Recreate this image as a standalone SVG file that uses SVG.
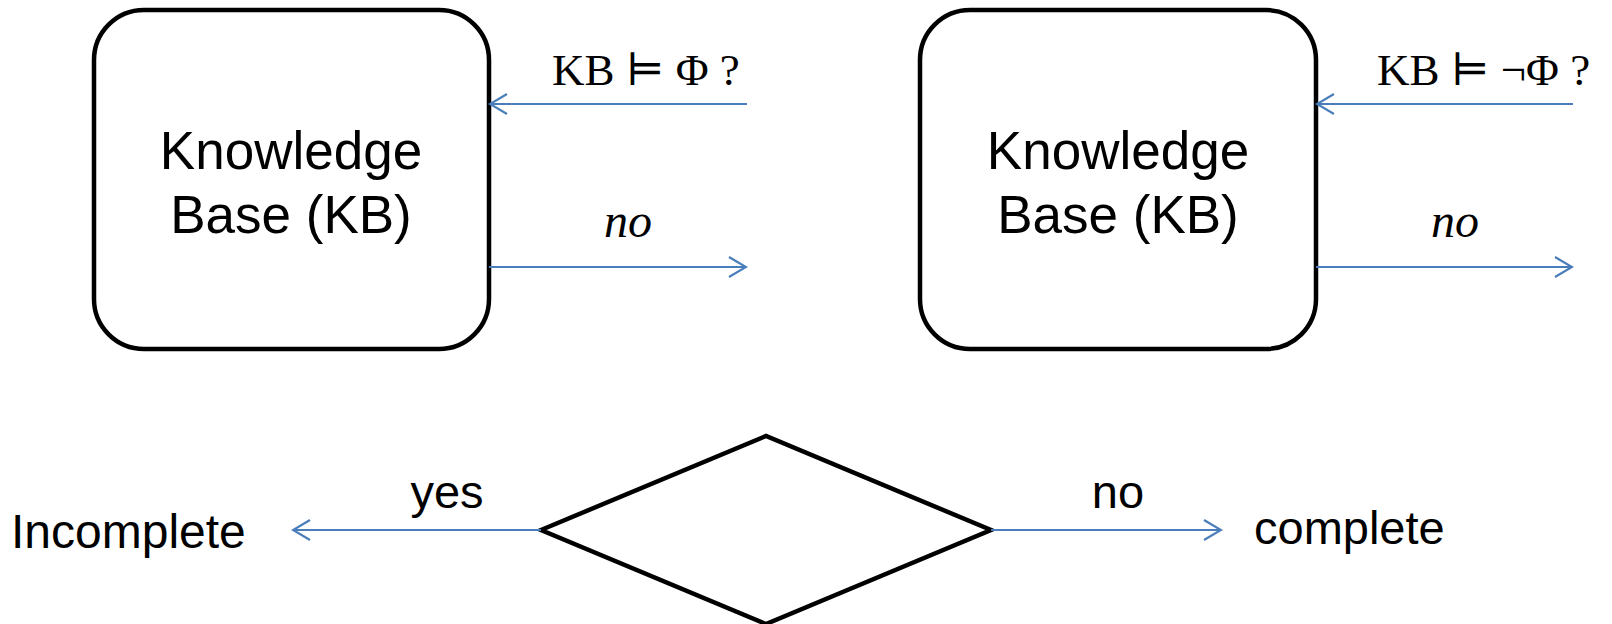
<svg xmlns="http://www.w3.org/2000/svg" width="1612" height="624" viewBox="0 0 1612 624">
  <style>
    .box { fill: #ffffff; stroke: #000000; stroke-width: 4.5; }
    .sans { font-family: "Liberation Sans", Arial, sans-serif; fill: #000000; }
    .math { font-family: "Liberation Serif", "DejaVu Serif", serif; fill: #000000; }
    .label { font-size: 53px; text-anchor: middle; }
    .small { font-size: 47px; }
    .wire { fill: none; stroke: #4a7ebb; stroke-width: 2.2; }
  </style>
  <defs>
    <marker id="open-arrow" markerUnits="userSpaceOnUse" viewBox="-20 -12 22 24" refX="0" refY="0" markerWidth="22" markerHeight="24" orient="auto">
      <path d="M -17 -10 L 0 0 L -17 10" fill="none" stroke="#4a7ebb" stroke-width="2.2"/>
    </marker>
  </defs>

  <rect width="1612" height="624" fill="#ffffff"/>

  <!-- first knowledge base -->
  <g id="kb-left">
    <rect class="box" x="94" y="10" width="395" height="339" rx="50" ry="50"/>
    <text class="sans label" x="291" y="169">Knowledge</text>
    <text class="sans label" x="291" y="233">Base (KB)</text>
  </g>

  <!-- second knowledge base -->
  <g id="kb-right">
    <rect class="box" x="920" y="10" width="396" height="339" rx="50" ry="50"/>
    <text class="sans label" x="1118" y="169">Knowledge</text>
    <text class="sans label" x="1118" y="233">Base (KB)</text>
  </g>

  <!-- decision diamond -->
  <g id="decision">
    <polygon class="box" points="541,530 766,436 991,530 766,624"/>
  </g>

  <!-- outcomes -->
  <g id="incomplete">
    <text class="sans" font-size="48" x="11" y="548">Incomplete</text>
  </g>
  <g id="complete">
    <text class="sans small" x="1254" y="544">complete</text>
  </g>

  <!-- connectors -->
  <g id="connectors">
    <line class="wire" x1="747" y1="104" x2="490" y2="104" marker-end="url(#open-arrow)"/>
    <line class="wire" x1="489" y1="267" x2="746" y2="267" marker-end="url(#open-arrow)"/>
    <line class="wire" x1="1573" y1="104" x2="1317" y2="104" marker-end="url(#open-arrow)"/>
    <line class="wire" x1="1316" y1="267" x2="1572" y2="267" marker-end="url(#open-arrow)"/>
    <line class="wire" x1="541" y1="530" x2="293" y2="530" marker-end="url(#open-arrow)"/>
    <line class="wire" x1="991" y1="530" x2="1221" y2="530" marker-end="url(#open-arrow)"/>
  </g>

  <!-- connector labels -->
  <g id="labels">
    <text class="math" font-size="45" x="552" y="85">KB ⊨ Φ ?</text>
    <text class="math" font-size="48" font-style="italic" x="604" y="237">no</text>
    <text class="math" font-size="45" x="1377" y="85">KB ⊨ ¬Φ ?</text>
    <text class="math" font-size="48" font-style="italic" x="1431" y="237">no</text>
    <text class="sans small" x="447" y="508" text-anchor="middle">yes</text>
    <text class="sans small" x="1118" y="508" text-anchor="middle">no</text>
  </g>
</svg>
